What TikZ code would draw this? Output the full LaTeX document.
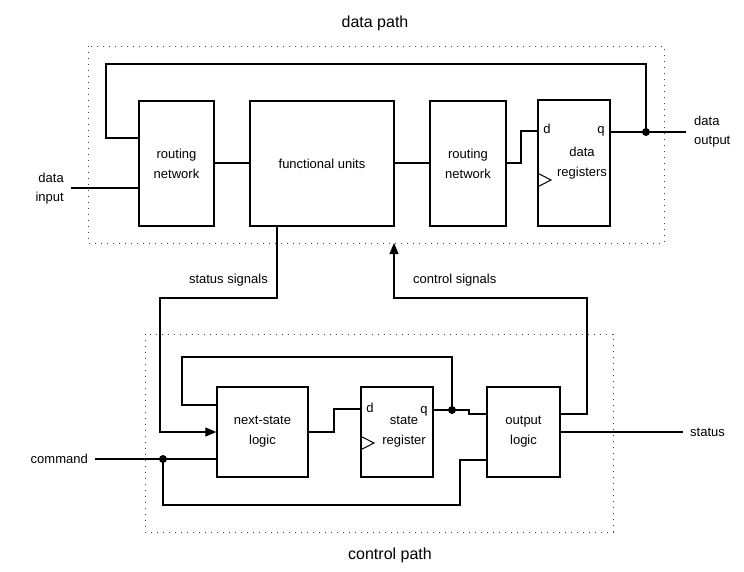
\documentclass[tikz,border=0pt]{standalone}
\usepackage{fontspec}
\setmainfont{Liberation Sans}
\usetikzlibrary{arrows.meta}
\begin{document}
\begin{tikzpicture}[x=1pt,y=-1pt,
  blk/.style={draw,line width=1.3pt,minimum width=#1,inner sep=0pt,align=center,font=\fontsize{13}{20}\selectfont},
  wire/.style={line width=1.2pt},
  lbl/.style={inner sep=0pt,font=\fontsize{13}{19}\selectfont},
  ttl/.style={inner sep=0pt,font=\fontsize{16}{19}\selectfont},
  frame/.style={draw=black!75,line width=0.9pt,dash pattern=on 0.9pt off 5.1pt},
  arr/.style={wire,-{Triangle[length=11pt,width=9pt]}},
  jdot/.style={fill,circle,inner sep=0pt,minimum size=8pt}]
\useasboundingbox (0,0) rectangle (744,571);
% frames
\draw[frame] (88,46) rectangle (664,243);
\draw[frame] (145,334) rectangle (613,532);
\node[ttl] (tdp) at (375,23) {data path};
\node[ttl] (tcp) at (390,555) {control path};
% data path blocks
\node[blk=75pt,minimum height=125pt] (rn1) at (176.5,163.5) {routing\\network};
\node[blk=144pt,minimum height=125pt] (fu) at (322,163.5) {functional units};
\node[blk=76pt,minimum height=125pt] (rn2) at (468,163.5) {routing\\network};
\node[blk=72pt,minimum height=126pt] (dr) at (574,163) {};
\node[lbl,align=center,font=\fontsize{13}{20}\selectfont] (drt) at (582,163) {data\\registers};
\node[lbl] (drd) at (547,129) {d};
\node[lbl] (drq) at (601,131) {q};
\draw[wire,line width=1pt] (dr.west |- 0,173) -- (551,180) -- (dr.west |- 0,187);
% control path blocks
\node[blk=91pt,minimum height=90pt] (nsl) at (262.5,432) {next-state\\logic};
\node[blk=72pt,minimum height=90pt] (sr) at (397,432) {};
\node[lbl,align=center,font=\fontsize{13}{20}\selectfont] (srt) at (404,432) {state\\register};
\node[lbl] (srd) at (370,408) {d};
\node[lbl] (srq) at (424,411) {q};
\draw[wire,line width=1pt] (sr.west |- 0,436) -- (374,443) -- (sr.west |- 0,450);
\node[blk=73pt,minimum height=90pt] (ol) at (523.5,432) {output\\logic};
% data path wires
\coordinate (din) at (71,188);
\node[lbl,anchor=east,align=right] (tdin) at (64,189) {data\\input};
\draw[wire] (din) -- (rn1.west |- din);
\draw[wire] (rn1.east |- 0,163) -- (fu.west |- 0,163);
\draw[wire] (fu.east |- 0,163) -- (rn2.west |- 0,163);
\draw[wire] (rn2.east |- 0,163) -- (521,163) -- (521,131) -- (dr.west |- 0,131);
\node[jdot] (j1) at (646,132) {};
\coordinate (dout) at (686,132);
\draw[wire] (dr.east |- 0,132) -- (dout);
\node[lbl,anchor=west,align=left] (tdout) at (694,131.5) {data\\output};
\draw[wire] (j1.center) -- (646,64) -- (106,64) -- (106,138) -- (rn1.west |- 0,138);
% status / control signals
\draw[arr] (fu.south -| 277,0) -- (277,298) -- (160,298) -- (160,432) -- (nsl.west |- 0,432);
\node[lbl,anchor=east] (tss) at (268,280) {status signals};
\coordinate (cpin) at (394,243);
\draw[arr] (ol.east |- 0,414) -- (587,414) -- (587,298) -- (394,298) -- (cpin);
\node[lbl,anchor=west] (tcs) at (413,280) {control signals};
% control path wires
\draw[wire] (nsl.east |- 0,432) -- (334,432) -- (334,409) -- (sr.west |- 0,409);
\node[jdot] (j2) at (452,410) {};
\draw[wire] (sr.east |- 0,410) -- (469,410) -- (469,414) -- (ol.west |- 0,414);
\draw[wire] (j2.center) -- (452,357) -- (182,357) -- (182,405) -- (nsl.west |- 0,405);
\coordinate (cmd) at (95,459);
\node[lbl,anchor=east] (tcmd) at (88,459) {command};
\node[jdot] (j3) at (163,459) {};
\draw[wire] (cmd) -- (nsl.west |- cmd);
\draw[wire] (j3.center) -- (163,505) -- (460,505) -- (460,460) -- (ol.west |- 0,460);
\coordinate (st) at (683,432);
\draw[wire] (ol.east |- st) -- (st);
\node[lbl,anchor=west] (tst) at (690,432) {status};
\end{tikzpicture}
\end{document}
